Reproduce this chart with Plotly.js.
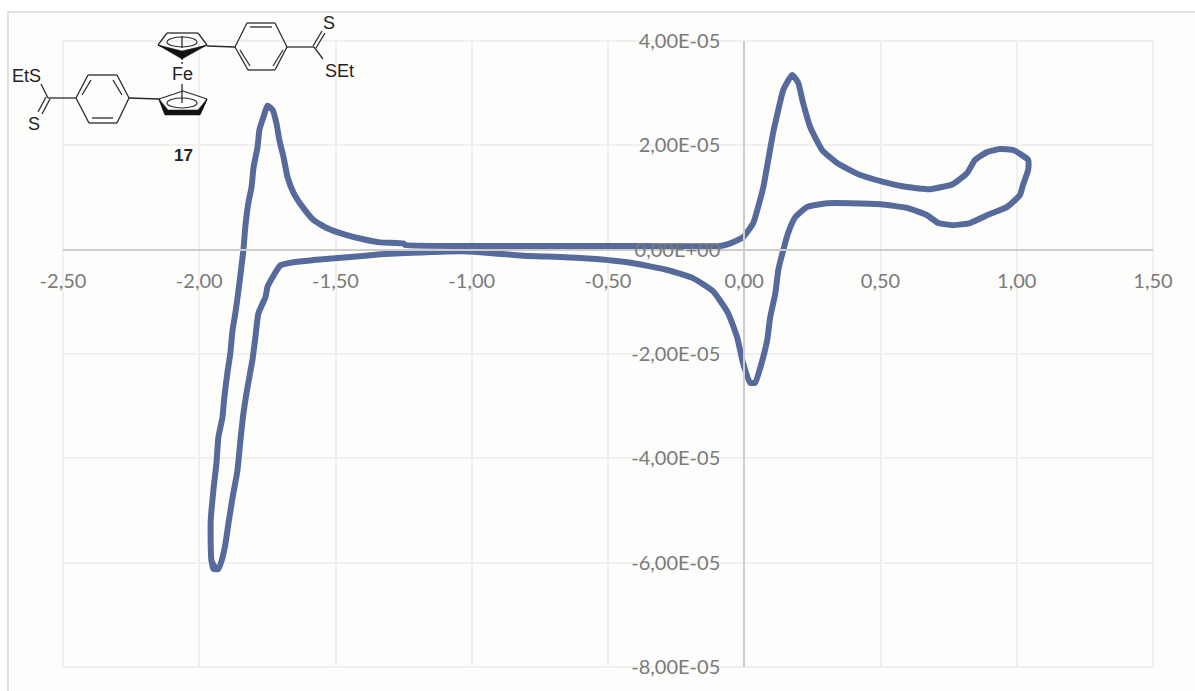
<!DOCTYPE html>
<html>
<head>
<meta charset="utf-8">
<script src="https://cdn.plot.ly/plotly-3.0.1.min.js"></script>
<style>html,body{margin:0;padding:0;background:#fff;overflow:hidden}#chart{width:1195px;height:691px}</style>
</head>
<body>
<div id="chart"></div>
<script>
// Voltage (V) along the closed cyclic-voltammetry loop
var potential = [-1.941,-1.955,-1.958,-1.947,-1.937,-1.930,-1.915,-1.908,-1.897,-1.886,-1.878,-1.867,-1.856,-1.838,-1.831,-1.820,-1.808,-1.801,-1.786,-1.779,-1.764,-1.750,-1.731,-1.717,-1.706,-1.691,-1.676,-1.654,-1.621,-1.581,-1.530,-1.471,-1.398,-1.335,-1.251,-1.244,-0.968,-0.785,-0.382,-0.088,-0.051,-0.004,0.033,0.051,0.070,0.088,0.106,0.125,0.143,0.176,0.198,0.216,0.242,0.286,0.341,0.426,0.510,0.598,0.682,0.767,0.818,0.847,0.891,0.939,0.987,1.042,1.042,1.023,1.012,0.965,0.891,0.829,0.767,0.712,0.671,0.598,0.499,0.389,0.304,0.231,0.187,0.161,0.143,0.125,0.114,0.095,0.084,0.059,0.040,0.022,-0.004,-0.026,-0.059,-0.114,-0.187,-0.282,-0.429,-0.602,-0.822,-0.968,-1.042,-1.262,-1.335,-1.445,-1.581,-1.654,-1.702,-1.731,-1.750,-1.757,-1.783,-1.794,-1.805,-1.823,-1.838,-1.849,-1.860,-1.878,-1.893,-1.904,-1.915,-1.930,-1.948,-1.955];
// Current (A)
var current = [-6.10e-5,-5.97e-5,-5.20e-5,-4.56e-5,-4.10e-5,-3.60e-5,-3.22e-5,-2.83e-5,-2.37e-5,-1.99e-5,-1.55e-5,-1.20e-5,-0.78e-5,-0.01e-5,0.43e-5,0.89e-5,1.20e-5,1.57e-5,1.97e-5,2.30e-5,2.55e-5,2.76e-5,2.68e-5,2.43e-5,2.10e-5,1.78e-5,1.39e-5,1.09e-5,0.82e-5,0.57e-5,0.41e-5,0.30e-5,0.20e-5,0.14e-5,0.12e-5,0.09e-5,0.07e-5,0.07e-5,0.07e-5,0.07e-5,0.12e-5,0.24e-5,0.51e-5,0.82e-5,1.20e-5,1.72e-5,2.24e-5,2.68e-5,3.06e-5,3.35e-5,3.20e-5,2.81e-5,2.35e-5,1.91e-5,1.66e-5,1.43e-5,1.30e-5,1.20e-5,1.16e-5,1.26e-5,1.47e-5,1.72e-5,1.87e-5,1.93e-5,1.91e-5,1.72e-5,1.53e-5,1.24e-5,1.05e-5,0.82e-5,0.66e-5,0.51e-5,0.47e-5,0.51e-5,0.66e-5,0.80e-5,0.87e-5,0.89e-5,0.89e-5,0.82e-5,0.62e-5,0.32e-5,-0.01e-5,-0.39e-5,-0.84e-5,-1.30e-5,-1.74e-5,-2.26e-5,-2.55e-5,-2.55e-5,-2.18e-5,-1.68e-5,-1.22e-5,-0.80e-5,-0.55e-5,-0.39e-5,-0.24e-5,-0.16e-5,-0.11e-5,-0.05e-5,-0.03e-5,-0.07e-5,-0.09e-5,-0.14e-5,-0.20e-5,-0.24e-5,-0.30e-5,-0.53e-5,-0.72e-5,-0.91e-5,-1.22e-5,-1.68e-5,-2.12e-5,-2.64e-5,-3.14e-5,-3.66e-5,-4.24e-5,-4.76e-5,-5.25e-5,-5.64e-5,-5.91e-5,-6.12e-5,-6.12e-5,-5.97e-5];

var xTickVals = [-2.5,-2,-1.5,-1,-0.5,0,0.5,1,1.5];
var xTickText = ['-2,50','-2,00','-1,50','-1,00','-0,50','0,00','0,50','1,00','1,50'];
var yTickVals = [-8e-5,-6e-5,-4e-5,-2e-5,0,2e-5,4e-5];
var yTickText = ['-8,00E-05','-6,00E-05','-4,00E-05','-2,00E-05','0,00E+00','2,00E-05','4,00E-05'];

// Structure 17 inset, in page pixels
var W = 1195, H = 691, mL = 63, mR = 42, mT = 41, mB = 24;
function px(x){ return (x - mL) / (W - mL - mR); }
function py(y){ return 1 - (y - mT) / (H - mT - mB); }

var moleculeBonds = [
  [158,45,167,33],[167,33,198,33],[198,33,207,45],[158,45,182,55],[182,55,207,45],
  [182,36,182,48],[182,84,182,103],
  [159,99,183,91],[183,91,207,99],[159,99,165,114],[207,99,200,114],[165,114,200,114],
  [207,46,235,47],
  [235,47,247,23],[247,23,275,23],[275,23,287,47],[287,47,275,70],[275,70,248,70],[248,70,235,47],
  [250,27,272,27],[240,50,250,66],[283,50,273,66],
  [287,47,314,47],[313,46,322,31],[316,48,325,33],[314,47,323,59],
  [41,84,48,98],[48,98,76,98],[46,97,38,112],[50,99,42,114],
  [76,98,88,75],[88,75,117,75],[117,75,129,98],[129,98,117,123],[117,123,89,123],[89,123,76,98],
  [82,95,91,80],[113,80,122,95],[92,118,113,118],
  [129,98,159,99]
];
var moleculeDashes = [[182,58,182,66]];
var moleculeRings = [[167,37,197,47],[167,98,197,108]];
var moleculeWedges = [
  [[158,45],[182,59],[207,45],[182,51]],
  [[159,99],[165,115],[200,115],[207,99],[198,110],[168,110]]
];
var moleculeLabels = [
  ['Fe',182,74,18,false],['S',329,23,18,false],['SEt',339,71,18,false],
  ['EtS',26,76,18,false],['S',34,124,18,false],['17',183,155,17,true]
];

var shapes = [{
  type:'rect', xref:'paper', yref:'paper', layer:'below',
  x0:px(8), x1:px(1230), y0:py(12), y1:py(730),
  fillcolor:'#fdfdfb', line:{color:'#e2e0dc', width:2}
},{
  type:'rect', xref:'paper', yref:'paper', layer:'below',
  x0:0, x1:1, y0:0, y1:1, line:{color:'#f1f0ee', width:2}
}];
var ink = '#2a2a2a';
moleculeBonds.forEach(function(b){
  shapes.push({type:'line',xref:'paper',yref:'paper',x0:px(b[0]),y0:py(b[1]),x1:px(b[2]),y1:py(b[3]),line:{color:ink,width:1.3}});
});
moleculeDashes.forEach(function(b){
  shapes.push({type:'line',xref:'paper',yref:'paper',x0:px(b[0]),y0:py(b[1]),x1:px(b[2]),y1:py(b[3]),line:{color:ink,width:1.3,dash:'2px,2px'}});
});
moleculeRings.forEach(function(r){
  shapes.push({type:'circle',xref:'paper',yref:'paper',x0:px(r[0]),y0:py(r[1]),x1:px(r[2]),y1:py(r[3]),line:{color:ink,width:1.1}});
});
moleculeWedges.forEach(function(w){
  var d = w.map(function(p,i){ return (i?'L':'M') + px(p[0]) + ',' + py(p[1]); }).join(' ') + ' Z';
  shapes.push({type:'path',xref:'paper',yref:'paper',path:d,fillcolor:'#111',line:{color:'#111',width:0.5}});
});

var annotations = moleculeLabels.map(function(l){
  return {xref:'paper',yref:'paper',x:px(l[1]),y:py(l[2]),text:l[4]?'<b>'+l[0]+'</b>':l[0],showarrow:false,
    xanchor:'center',yanchor:'middle',font:{family:'Liberation Sans',size:l[3],color:'#222'}};
});

var axisFont = {family:'Lato',size:20,color:'#7a7a7a'};
Plotly.newPlot('chart',[{
  x:potential, y:current, mode:'lines', type:'scatter',
  line:{color:'#566a9b', width:6, shape:'spline', smoothing:0.45},
  hoverinfo:'skip'
}],{
  width:W, height:H,
  margin:{l:mL,r:mR,t:mT,b:mB,pad:0},
  paper_bgcolor:'#ffffff', plot_bgcolor:'rgba(0,0,0,0)',
  showlegend:false,
  shapes:shapes, annotations:annotations,
  xaxis:{range:[-2.5,1.5],tickmode:'array',tickvals:xTickVals,ticktext:xTickText,tickfont:axisFont,
    anchor:'free',position:8/12,showline:true,linecolor:'#cdcccb',linewidth:2,
    showgrid:true,gridcolor:'#f1f0ee',gridwidth:2,zeroline:false,ticks:'',ticklabelstandoff:13,tickangle:0},
  yaxis:{range:[-8e-5,4e-5],tickmode:'array',tickvals:yTickVals,ticktext:yTickText,tickfont:axisFont,
    anchor:'free',position:2.5/4,showline:true,linecolor:'#cdcccb',linewidth:2,
    showgrid:true,gridcolor:'#f1f0ee',gridwidth:2,zeroline:false,ticks:'',ticklabelstandoff:19}
},{staticPlot:true,displayModeBar:false});
</script>
</body>
</html>
